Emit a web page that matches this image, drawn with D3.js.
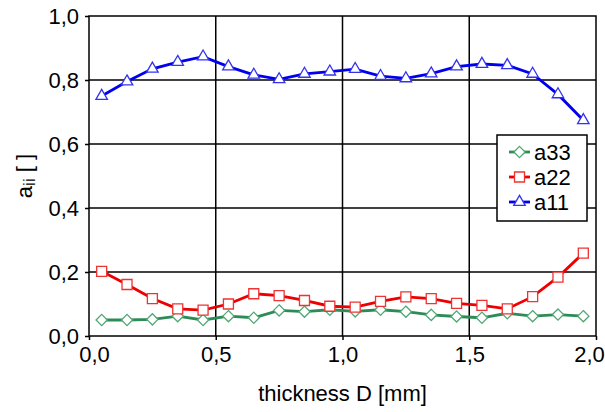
<!DOCTYPE html>
<html>
<head>
<meta charset="utf-8">
<script src="https://cdn.jsdelivr.net/npm/d3@7"></script>
<style>
  body { margin: 0; background: #fff; }
  text { font-family: "Liberation Sans", Arial, sans-serif; fill: #000; }
</style>
</head>
<body>
<svg id="chart" width="605" height="412"></svg>
<script>
var thickness = [0.05, 0.15, 0.25, 0.35, 0.45, 0.55, 0.65, 0.75, 0.85, 0.95,
  1.05, 1.15, 1.25, 1.35, 1.45, 1.55, 1.65, 1.75, 1.85, 1.95];
var a11 = [0.75, 0.795, 0.835, 0.856, 0.873, 0.842, 0.816, 0.802, 0.819, 0.826,
  0.834, 0.812, 0.805, 0.82, 0.842, 0.85, 0.846, 0.819, 0.755, 0.674];
var a22 = [0.202, 0.161, 0.117, 0.085, 0.081, 0.1, 0.132, 0.126, 0.111, 0.093,
  0.09, 0.108, 0.122, 0.117, 0.102, 0.096, 0.085, 0.123, 0.184, 0.259];
var a33 = [0.05, 0.05, 0.052, 0.062, 0.05, 0.062, 0.057, 0.08, 0.076, 0.082,
  0.077, 0.082, 0.076, 0.066, 0.061, 0.057, 0.071, 0.062, 0.067, 0.062];
var xTicks = [0, 0.5, 1.0, 1.5, 2.0];
var yTicks = [0, 0.2, 0.4, 0.6, 0.8, 1.0];

var series = [
  {name: 'a33', values: a33, line: '#2e8b57', mark: '#4fa874', shape: 'diamond'},
  {name: 'a22', values: a22, line: '#ee0000', mark: '#ee3333', shape: 'square'},
  {name: 'a11', values: a11, line: '#0000ee', mark: '#3333ee', shape: 'triangle'}
];

var margin = {top: 16, right: 9, bottom: 76, left: 89};
var svg = d3.select('#chart');
var width = 605 - margin.left - margin.right;
var height = 412 - margin.top - margin.bottom;
var fontSize = '22px';

var x = d3.scaleLinear().domain([0, 2]).range([0, width]);
var y = d3.scaleLinear().domain([0, 1]).range([height, 0]);
var fmt = function(d) { return d3.format('.1f')(d).replace('.', ','); };

var root = svg.append('g')
  .attr('transform', 'translate(' + margin.left + ',' + margin.top + ')');

// grid
root.append('g').selectAll('line').data(yTicks.slice(1, -1)).join('line')
  .attr('x1', 0).attr('x2', width)
  .attr('y1', function(d) { return y(d); }).attr('y2', function(d) { return y(d); })
  .attr('stroke', '#000').attr('stroke-width', 1.5);
root.append('g').selectAll('line').data(xTicks.slice(1, -1)).join('line')
  .attr('y1', 0).attr('y2', height)
  .attr('x1', function(d) { return x(d); }).attr('x2', function(d) { return x(d); })
  .attr('stroke', '#000').attr('stroke-width', 1.5);

// axes
var xAxis = root.append('g').attr('transform', 'translate(0,' + height + ')')
  .call(d3.axisBottom(x).tickValues(xTicks).tickFormat(fmt).tickSize(4).tickPadding(6));
var yAxis = root.append('g')
  .call(d3.axisLeft(y).tickValues(yTicks).tickFormat(fmt).tickSize(4).tickPadding(6));
[xAxis, yAxis].forEach(function(a) {
  a.select('.domain').remove();
  a.selectAll('line').attr('stroke', '#000').attr('stroke-width', 1.5);
  a.selectAll('text').style('font-family', '"Liberation Sans", Arial, sans-serif')
    .style('font-size', fontSize).attr('fill', '#000');
});
// keep the end labels inside the picture
xAxis.selectAll('text').attr('dx', function(d) {
  if (d === 0) return 5;
  if (d === 2) return -7;
  return 0;
});

root.append('rect').attr('width', width).attr('height', height)
  .attr('fill', 'none').attr('stroke', '#000').attr('stroke-width', 1.5);

// series
var symbolFor = function(shape) {
  if (shape === 'diamond') return d3.symbol().type(d3.symbolDiamond2).size(80);
  if (shape === 'square') return d3.symbol().type(d3.symbolSquare).size(100);
  return d3.symbol().type(d3.symbolTriangle2).size(95);
};

var line = d3.line()
  .x(function(d, i) { return x(thickness[i]); })
  .y(function(d) { return y(d); });

series.forEach(function(s) {
  var g = root.append('g');
  g.append('path').datum(s.values)
    .attr('d', line).attr('fill', 'none')
    .attr('stroke', s.line).attr('stroke-width', 2.8);
  g.selectAll('path.mark').data(s.values).join('path')
    .attr('class', 'mark')
    .attr('d', symbolFor(s.shape))
    .attr('transform', function(d, i) {
      return 'translate(' + x(thickness[i]) + ',' + y(d) + ')';
    })
    .attr('fill', '#fff').attr('stroke', s.mark).attr('stroke-width', 1.3);
});

// legend
var legend = root.append('g').attr('transform', 'translate(' + (497 - margin.left) + ',' + (135 - margin.top) + ')');
legend.append('rect').attr('width', 90).attr('height', 86)
  .attr('fill', '#fff').attr('stroke', '#000').attr('stroke-width', 1.5);
series.forEach(function(s, i) {
  var row = legend.append('g').attr('transform', 'translate(0,' + (17 + i * 25) + ')');
  row.append('line').attr('x1', 12).attr('x2', 33)
    .attr('stroke', s.line).attr('stroke-width', 2.8);
  row.append('path').attr('d', symbolFor(s.shape)).attr('transform', 'translate(22.5,0)')
    .attr('fill', '#fff').attr('stroke', s.mark).attr('stroke-width', 1.3);
  row.append('text').attr('x', 37).attr('dy', '0.36em')
    .style('font-size', fontSize).text(s.name);
});

// titles
svg.append('text').attr('x', margin.left + width / 2).attr('y', 401)
  .attr('text-anchor', 'middle').style('font-size', fontSize)
  .text('thickness D [mm]');
var yt = svg.append('text')
  .attr('transform', 'translate(32,' + (margin.top + height / 2) + ') rotate(-90)')
  .attr('text-anchor', 'middle').style('font-size', fontSize);
yt.append('tspan').text('a');
yt.append('tspan').attr('baseline-shift', '-20%').style('font-size', '17px').text('ii');
yt.append('tspan').text(' [ ]');
</script>
</body>
</html>
